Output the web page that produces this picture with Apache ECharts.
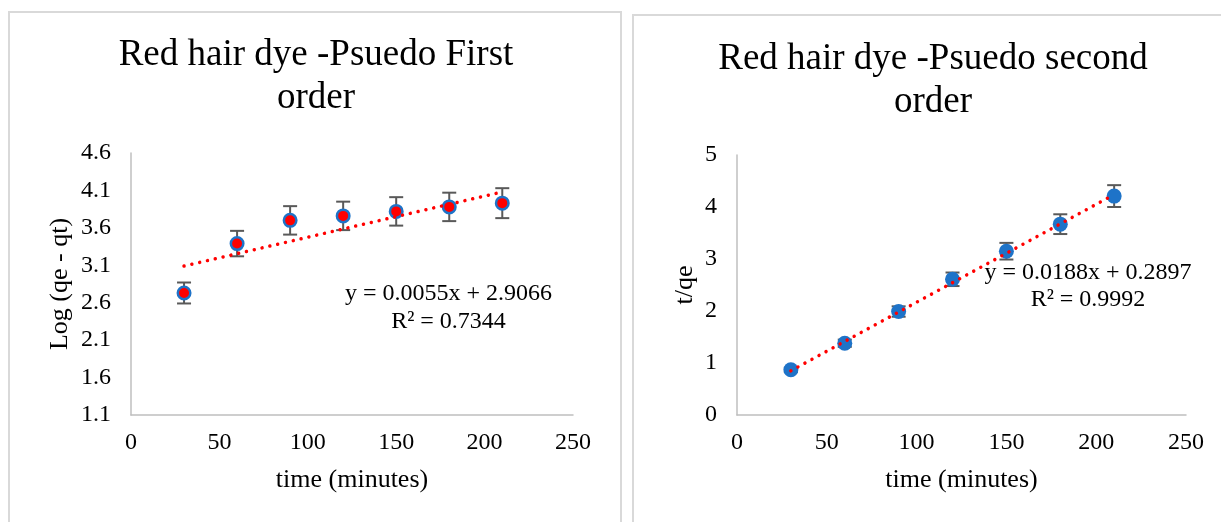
<!DOCTYPE html>
<html>
<head>
<meta charset="utf-8">
<script src="https://cdn.jsdelivr.net/npm/echarts@6/dist/echarts.min.js"></script>
<style>
html,body{margin:0;padding:0;background:#fff;}
#chart{width:1221px;height:522px;}
</style>
</head>
<body>
<div id="chart"></div>
<script>
// ---- data ----
const timeMinutes = [30, 60, 90, 120, 150, 180, 210];
const firstOrderY = [2.73, 3.39, 3.70, 3.76, 3.82, 3.88, 3.93];
const firstOrderErr = [0.14, 0.17, 0.19, 0.19, 0.19, 0.19, 0.20];
const firstTrendX = [30, 210];
const firstTrendY = [3.09, 4.08];
const secondOrderY = [0.87, 1.38, 1.99, 2.61, 3.15, 3.67, 4.21];
const secondOrderErr = [0.04, 0.07, 0.10, 0.13, 0.16, 0.19, 0.21];
const secondTrendX = [30, 210];
const secondTrendY = [0.85, 4.24];
const firstYTicks = [1.1, 1.6, 2.1, 2.6, 3.1, 3.6, 4.1, 4.6];
const secondYTicks = [0, 1, 2, 3, 4, 5];
const xTicks = [0, 50, 100, 150, 200, 250];
const titles = ['Red hair dye -Psuedo First\norder', 'Red hair dye -Psuedo second\norder'];
const yNames = ['Log (qe - qt)', 't/qe'];
const xName = 'time (minutes)';
const equations = ['y = 0.0055x + 2.9066\nR² = 0.7344', 'y = 0.0188x + 0.2897\nR² = 0.9992'];

// ---- styles ----
const FONT = '"Liberation Serif", "Times New Roman", serif';
const RED = '#FF0000';
const BLUE = '#1E73C8';
const ERR = '#595959';
const AXIS = '#BFBFBF';
const BORDER = '#D9D9D9';

const chart = echarts.init(document.getElementById('chart'), null, {renderer: 'canvas'});

function zip2(a, b) { return a.map((v, i) => [v, b[i]]); }
function zip3(a, b, c) { return a.map((v, i) => [v, b[i], c[i]]); }

function errRender(params, api) {
  const x = api.value(0), y = api.value(1), e = api.value(2);
  const top = api.coord([x, y + e]);
  const bot = api.coord([x, y - e]);
  const hw = 7;
  const st = {stroke: ERR, lineWidth: 2};
  return {
    type: 'group',
    children: [
      {type: 'line', shape: {x1: top[0], y1: top[1], x2: bot[0], y2: bot[1]}, style: st},
      {type: 'line', shape: {x1: top[0] - hw, y1: top[1], x2: top[0] + hw, y2: top[1]}, style: st},
      {type: 'line', shape: {x1: bot[0] - hw, y1: bot[1], x2: bot[0] + hw, y2: bot[1]}, style: st}
    ]
  };
}

function xAxisCfg(gi) {
  return {
    type: 'value', gridIndex: gi, min: 0, max: 250, interval: 50,
    name: xName, nameLocation: 'middle', nameGap: 52,
    nameTextStyle: {fontFamily: FONT, fontSize: 26, color: '#000'},
    axisLine: {show: true, lineStyle: {color: AXIS, width: 1.5}},
    axisTick: {show: false},
    splitLine: {show: false},
    axisLabel: {fontFamily: FONT, fontSize: 24, color: '#000', margin: 16,
      customValues: xTicks}
  };
}

function yAxisCfg(gi, ticks, dec, nameGap) {
  return {
    type: 'value', gridIndex: gi, min: ticks[0], max: ticks[ticks.length - 1],
    name: yNames[gi], nameLocation: 'middle', nameGap: nameGap,
    nameTextStyle: {fontFamily: FONT, fontSize: 26, color: '#000'},
    axisLine: {show: true, lineStyle: {color: AXIS, width: 1.5}},
    axisTick: {show: false},
    splitLine: {show: false},
    axisLabel: {fontFamily: FONT, fontSize: 24, color: '#000', margin: 20,
      customValues: ticks,
      formatter: v => Number(v).toFixed(dec)}
  };
}

function textEl(x, y, text, size, lh) {
  return {
    type: 'text', x: x, y: y, z: 100,
    style: {
      text: text, fill: '#000',
      font: size + 'px ' + FONT,
      fontSize: size, fontFamily: FONT,
      lineHeight: lh,
      align: 'center', verticalAlign: 'middle',
      textAlign: 'center', textVerticalAlign: 'middle'
    }
  };
}

const option = {
  backgroundColor: '#fff',
  animation: false,
  grid: [
    {left: 131, top: 153, width: 442, height: 262},
    {left: 737, top: 155, width: 449, height: 260}
  ],
  xAxis: [xAxisCfg(0), xAxisCfg(1)],
  yAxis: [yAxisCfg(0, firstYTicks, 1, 58), yAxisCfg(1, secondYTicks, 0, 39)],
  graphic: [
    {type: 'rect', z: 0, shape: {x: 9, y: 12, width: 612, height: 530},
      style: {fill: 'none', stroke: BORDER, lineWidth: 2}},
    {type: 'rect', z: 0, shape: {x: 633, y: 15, width: 620, height: 530},
      style: {fill: 'none', stroke: BORDER, lineWidth: 2}},
    textEl(316, 77, titles[0], 37, 43),
    textEl(933, 81, titles[1], 37, 43),
    textEl(448.5, 307.6, equations[0], 24, 28),
    textEl(1088, 286.7, equations[1], 24, 27)
  ],
  series: [
    {type: 'custom', xAxisIndex: 0, yAxisIndex: 0, z: 1,
      renderItem: errRender, encode: {x: 0, y: 1},
      data: zip3(timeMinutes, firstOrderY, firstOrderErr)},
    {type: 'scatter', xAxisIndex: 0, yAxisIndex: 0, z: 2,
      symbol: 'circle', symbolSize: 12.5,
      itemStyle: {color: RED, borderColor: BLUE, borderWidth: 2.5, opacity: 1},
      data: zip2(timeMinutes, firstOrderY)},
    {type: 'line', xAxisIndex: 0, yAxisIndex: 0, z: 3, symbol: 'none',
      lineStyle: {color: RED, width: 3.5, type: [0.01, 8], cap: 'round'},
      data: zip2(firstTrendX, firstTrendY)},

    {type: 'custom', xAxisIndex: 1, yAxisIndex: 1, z: 1,
      renderItem: errRender, encode: {x: 0, y: 1},
      data: zip3(timeMinutes, secondOrderY, secondOrderErr)},
    {type: 'scatter', xAxisIndex: 1, yAxisIndex: 1, z: 2,
      symbol: 'circle', symbolSize: 15,
      itemStyle: {color: BLUE, opacity: 1},
      data: zip2(timeMinutes, secondOrderY)},
    {type: 'line', xAxisIndex: 1, yAxisIndex: 1, z: 3, symbol: 'none',
      lineStyle: {color: RED, width: 3.5, type: [0.01, 8], cap: 'round'},
      data: zip2(secondTrendX, secondTrendY)}
  ]
};
chart.setOption(option);
</script>
</body>
</html>
